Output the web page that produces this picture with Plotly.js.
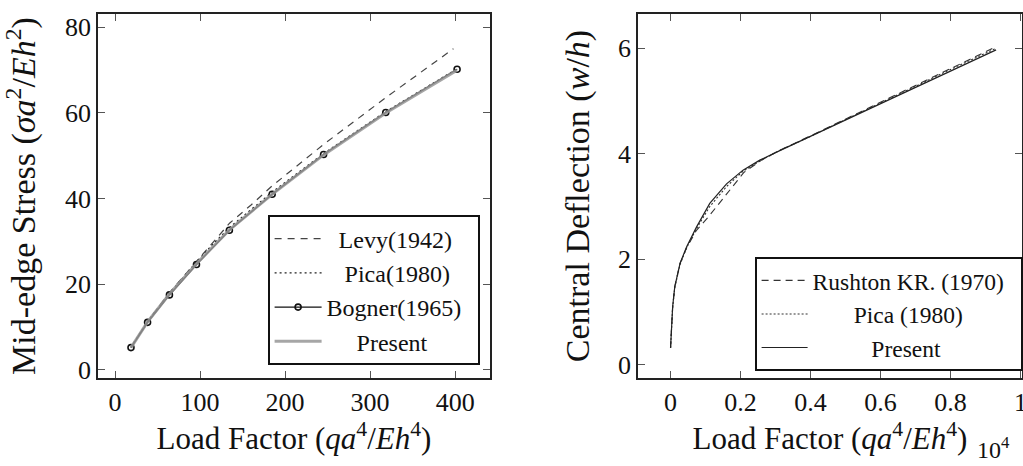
<!DOCTYPE html>
<html>
<head>
<meta charset="utf-8">
<script src="https://cdn.plot.ly/plotly-3.0.1.min.js"></script>
<style>html,body{margin:0;padding:0;background:#fff;}#chart{width:1023px;height:466px;}</style>
</head>
<body>
<div id="chart"></div>
<script>
// ---- Left panel: Mid-edge stress vs load factor ----
const levyX   = [18.8, 38.3, 64, 95.8, 135, 160, 185, 245, 320, 398];
const levyY   = [5.2, 11.3, 18.0, 25.3, 34.3, 38.5, 43.0, 52.6, 63.8, 75.0];
const picaLX  = [18.8, 38.3, 64, 95.8, 115, 134.5, 184.8, 245.3, 318.4, 402.3];
const picaLY  = [5.3, 11.3, 17.9, 25.2, 29.3, 33.2, 41.5, 50.5, 60.3, 70.3];
const bognerX = [18.8, 38.3, 64, 95.8, 134.5, 184.8, 245.3, 318.4, 402.3];
const bognerY = [5.2, 11.1, 17.5, 24.6, 32.6, 41.0, 50.3, 60.1, 70.2];
const presLX  = [18.8, 38.3, 64, 95.8, 134.5, 184.8, 245.3, 318.4, 402.3];
const presLY  = [5.2, 11.2, 17.7, 24.8, 32.7, 41.0, 50.2, 60.0, 70.0];

// ---- Right panel: central deflection vs load factor (x 10^4) ----
const rushX = [0, 0.003, 0.006, 0.012, 0.027, 0.046, 0.074, 0.11, 0.15, 0.21, 0.26, 0.31, 0.4, 0.5, 0.6, 0.7, 0.8, 0.93];
const rushY = [0.32, 0.85, 1.10, 1.48, 1.92, 2.22, 2.55, 2.82, 3.15, 3.65, 3.88, 4.06, 4.34, 4.66, 4.98, 5.30, 5.62, 6.03];
const picaRX = [0, 0.003, 0.006, 0.012, 0.027, 0.046, 0.074, 0.112, 0.16, 0.207, 0.26, 0.31, 0.4, 0.5, 0.6, 0.7, 0.8, 0.93];
const picaRY = [0.32, 0.84, 1.08, 1.46, 1.90, 2.22, 2.58, 3.00, 3.38, 3.67, 3.88, 4.06, 4.33, 4.65, 4.96, 5.28, 5.60, 6.00];
const presRX = [0, 0.003, 0.006, 0.012, 0.02, 0.027, 0.046, 0.074, 0.112, 0.16, 0.207, 0.255, 0.312, 0.4, 0.5, 0.6, 0.7, 0.8, 0.93];
const presRY = [0.32, 0.85, 1.10, 1.48, 1.75, 1.92, 2.24, 2.61, 3.06, 3.43, 3.69, 3.88, 4.06, 4.33, 4.64, 4.95, 5.26, 5.57, 5.97];

const FONT = "Liberation Serif";
const INK = "#111";
const SP = n => "&nbsp;".repeat(n);

const traces = [
  {x: levyX, y: levyY, name: SP(2) + "Levy(1942)", mode: "lines", xaxis: "x", yaxis: "y", legend: "legend",
   line: {color: "#444", width: 1.2, dash: "7px,6px"}},
  {x: picaLX, y: picaLY, name: SP(3) + "Pica(1980)", mode: "lines", xaxis: "x", yaxis: "y", legend: "legend",
   line: {color: "#222", width: 1.3, dash: "2px,3px"}},
  {x: bognerX, y: bognerY, name: "Bogner(1965)" + SP(2), mode: "lines+markers", xaxis: "x", yaxis: "y", legend: "legend",
   line: {color: "#111", width: 1.4}, marker: {symbol: "circle-open", size: 6, color: "#111", line: {width: 1.6}}},
  {x: presLX, y: presLY, name: SP(5) + "Present", mode: "lines", xaxis: "x", yaxis: "y", legend: "legend",
   line: {color: "rgba(150,150,150,0.85)", width: 3}},
  {x: rushX, y: rushY, name: "Rushton KR. (1970)" + SP(2), mode: "lines", xaxis: "x2", yaxis: "y2", legend: "legend2",
   line: {color: "#333", width: 1.1, dash: "7px,5px"}},
  {x: picaRX, y: picaRY, name: SP(7) + "Pica (1980)", mode: "lines", xaxis: "x2", yaxis: "y2", legend: "legend2",
   line: {color: "#333", width: 1.1, dash: "2px,2px"}},
  {x: presRX, y: presRY, name: SP(10) + "Present", mode: "lines", xaxis: "x2", yaxis: "y2", legend: "legend2",
   line: {color: "#222", width: 1.2}}
];

const W = 1023, H = 466;
function axisCommon() {
  return {
    showgrid: false, zeroline: false, showline: true, linecolor: "#222", linewidth: 1.6,
    mirror: "allticks", ticks: "inside", ticklen: 7, tickwidth: 1, tickcolor: "#555",
    tickfont: {family: FONT, size: 26, color: INK}, automargin: false, ticklabeloverflow: "allow"
  };
}

const layout = {
  width: W, height: H,
  margin: {l: 0, r: 0, t: 0, b: 0},
  paper_bgcolor: "#fff", plot_bgcolor: "#fff",
  font: {family: FONT, color: INK},
  xaxis: Object.assign(axisCommon(), {
    domain: [98 / W, 490 / W], range: [-20, 441], dtick: 100, tick0: 0, anchor: "y",
    title: {text: "Load Factor (<i>qa</i><sup>4</sup>/<i>Eh</i><sup>4</sup>)", font: {family: FONT, size: 31, color: INK}, standoff: 10}
  }),
  yaxis: Object.assign(axisCommon(), {
    domain: [1 - 378 / H, 1 - 14 / H], range: [-1.9, 83.1], dtick: 20, tick0: 0, anchor: "x",
    title: {text: "Mid-edge Stress (<i>σa</i><sup>2</sup>/<i>Eh</i><sup>2</sup>)", font: {family: FONT, size: 34, color: INK}, standoff: 22}
  }),
  xaxis2: Object.assign(axisCommon(), {
    domain: [638 / W, 1022 / W], range: [-0.093, 1.004], dtick: 0.2, tick0: 0, anchor: "y2",
    title: {text: "Load Factor (<i>qa</i><sup>4</sup>/<i>Eh</i><sup>4</sup>)", font: {family: FONT, size: 31, color: INK}, standoff: 10}
  }),
  yaxis2: Object.assign(axisCommon(), {
    domain: [1 - 378 / H, 1 - 14 / H], range: [-0.25, 6.65], dtick: 2, tick0: 0, anchor: "x2",
    title: {text: "Central Deflection (<i>w</i>/<i>h</i>)", font: {family: FONT, size: 34, color: INK}, standoff: 18}
  }),
  legend: {
    x: 268 / W, y: 1 - 215 / H, xanchor: "left", yanchor: "top",
    bgcolor: "#fff", bordercolor: "#111", borderwidth: 1.6,
    font: {family: FONT, size: 24, color: INK}, tracegroupgap: 0, itemwidth: 47
  },
  legend2: {
    x: 755 / W, y: 1 - 257 / H, xanchor: "left", yanchor: "top",
    bgcolor: "#fff", bordercolor: "#111", borderwidth: 1.6,
    font: {family: FONT, size: 23.5, color: INK}, tracegroupgap: 0, itemwidth: 46
  },
  showlegend: true,
  annotations: [
    {xref: "paper", yref: "paper", x: 975 / W, y: 1 - 448 / H, xanchor: "left", yanchor: "middle",
     text: "10<sup>4</sup>", showarrow: false, font: {family: FONT, size: 24, color: INK}}
  ]
};

Plotly.newPlot("chart", traces, layout, {displayModeBar: false});
</script>
</body>
</html>
